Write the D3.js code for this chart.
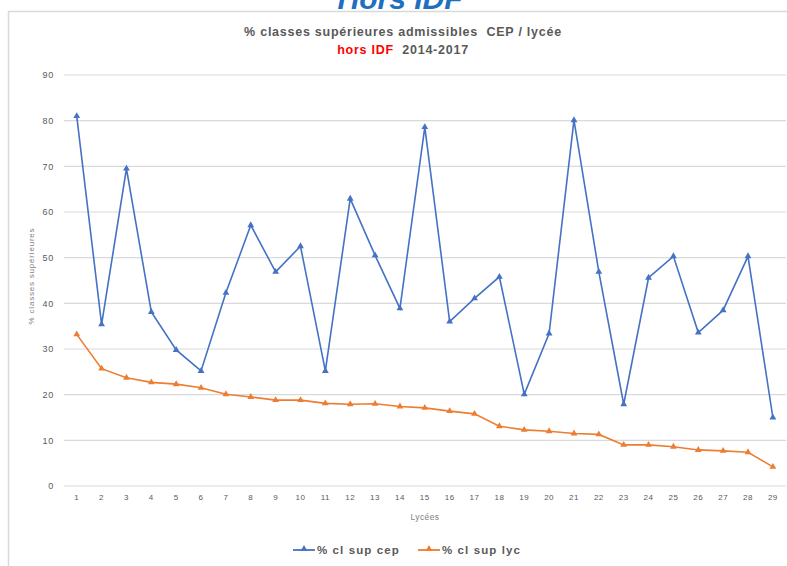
<!DOCTYPE html>
<html><head><meta charset="utf-8">
<script src="https://cdn.jsdelivr.net/npm/d3@7"></script>
<style>
html,body{margin:0;padding:0;background:#fff;}
svg{display:block;font-family:"Liberation Sans Narrow","Liberation Sans",Arial,sans-serif;}
.pre{white-space:pre;}
</style></head><body>
<svg id="chart" width="787" height="566"></svg>
<script>
const categories = d3.range(1, 30).map(String);
const seriesNames = ["% cl sup cep", "% cl sup lyc"];
const cepValues = [81.0, 35.4, 69.5, 38.1, 29.8, 25.2, 42.3, 57.1, 46.9, 52.5, 25.2, 62.9, 50.5, 38.9, 78.6, 36.0, 41.1, 45.8, 20.1, 33.4, 80.1, 46.9, 17.9, 45.6, 50.3, 33.6, 38.5, 50.3, 15.0];
const lycValues = [33.2, 25.7, 23.7, 22.7, 22.3, 21.5, 20.1, 19.5, 18.8, 18.8, 18.1, 17.9, 18.0, 17.4, 17.1, 16.4, 15.8, 13.1, 12.3, 12.0, 11.5, 11.3, 9.0, 9.0, 8.6, 7.9, 7.7, 7.4, 4.2];
const yTicks = [0, 10, 20, 30, 40, 50, 60, 70, 80, 90];
const colors = ["#4472C4", "#ED7D31"];

const svg = d3.select("#chart");

// page heading (cut off at top, as in the source page)
svg.append("text").attr("x", 400).attr("y", 9).attr("text-anchor", "middle")
  .attr("font-family", "Liberation Sans, Arial, sans-serif")
  .attr("font-size", 30).attr("font-weight", "bold").attr("font-style", "italic")
  .attr("fill", "#1F6FBF").text("Hors IDF");

// chart frame
svg.append("rect").attr("x", 8.5).attr("y", 11.5).attr("width", 800).attr("height", 600)
  .attr("fill", "#fff").attr("stroke", "#d9d9d9").attr("stroke-width", 1.5);

// titles
svg.append("text").attr("class", "pre").attr("x", 403).attr("y", 36).attr("text-anchor", "middle")
  .attr("font-size", 12.5).attr("font-weight", "bold").attr("fill", "#595959")
  .attr("letter-spacing", 0.75)
  .text("% classes supérieures admissibles  CEP / lycée");
const t2 = svg.append("text").attr("class", "pre").attr("x", 403).attr("y", 54).attr("text-anchor", "middle")
  .attr("font-size", 12.5).attr("font-weight", "bold").attr("letter-spacing", 0.75);
t2.append("tspan").attr("fill", "#FF0000").text("hors IDF");
t2.append("tspan").attr("fill", "#595959").text("  2014-2017");

const x = d3.scaleBand().domain(categories).range([64.3, 785.3]);
const y = d3.scaleLinear().domain([0, 90]).range([486, 75]);

// gridlines
svg.append("g").selectAll("line").data(yTicks).join("line")
  .attr("x1", 64).attr("x2", 786).attr("y1", d => y(d)).attr("y2", d => y(d))
  .attr("stroke", "#d9d9d9").attr("stroke-width", 1.2);

// y axis labels
const yAxis = svg.append("g").attr("transform", "translate(54,0)")
  .call(d3.axisLeft(y).tickValues(yTicks).tickSize(0).tickPadding(0));
yAxis.select(".domain").remove();
yAxis.selectAll("text").attr("font-size", 9).attr("fill", "#595959").attr("letter-spacing", 0.8)
  .attr("font-family", "Liberation Sans Narrow, Liberation Sans, Arial, sans-serif");

// x axis labels
const xAxis = svg.append("g").attr("transform", "translate(0,494)")
  .call(d3.axisBottom(x).tickSize(0).tickPadding(0));
xAxis.select(".domain").remove();
xAxis.selectAll("text").attr("font-size", 8).attr("fill", "#595959").attr("dy", "0.7em")
  .attr("letter-spacing", 0.5)
  .attr("font-family", "Liberation Sans Narrow, Liberation Sans, Arial, sans-serif");

// axis titles
svg.append("text").attr("x", 425).attr("y", 520).attr("text-anchor", "middle")
  .attr("font-size", 8.5).attr("fill", "#7f7f7f").attr("letter-spacing", 0.4).text("Lycées");
svg.append("text").attr("transform", "translate(34,276) rotate(-90)").attr("text-anchor", "middle")
  .attr("font-size", 8).attr("fill", "#7f7f7f").attr("letter-spacing", 0.8).text("% classes supérieures");

// lines
const cx = d => x(d) + x.bandwidth() / 2;
const series = [cepValues, lycValues];
const tri = d3.symbol().type(d3.symbolTriangle).size(20);
series.forEach((vals, i) => {
  const pts = categories.map((c, j) => [cx(c), y(vals[j])]);
  svg.append("path").datum(pts).attr("fill", "none").attr("stroke", colors[i])
    .attr("stroke-width", 1.6).attr("d", d3.line());
  svg.append("g").selectAll("path").data(pts).join("path")
    .attr("transform", d => `translate(${d[0]},${d[1]})`).attr("d", tri).attr("fill", colors[i]);
});

// legend
const legendX = [293, 418];
seriesNames.forEach((n, i) => {
  const g = svg.append("g").attr("transform", `translate(${legendX[i]},550)`);
  g.append("line").attr("x1", 0).attr("x2", 22).attr("stroke", colors[i]).attr("stroke-width", 1.8);
  g.append("path").attr("transform", "translate(11,-1)").attr("d", tri).attr("fill", colors[i]);
  g.append("text").attr("x", 24).attr("y", 4).attr("font-size", 11.5).attr("font-weight", "bold")
    .attr("letter-spacing", 1.1).attr("fill", "#595959").text(n);
});
</script>
</body></html>
